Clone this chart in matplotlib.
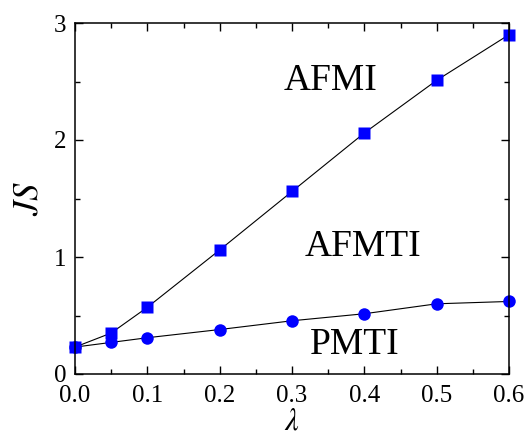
import matplotlib
matplotlib.use('Agg')
import matplotlib.pyplot as plt
from matplotlib.ticker import MultipleLocator

lam = [0.0, 0.05, 0.1, 0.2, 0.3, 0.4, 0.5, 0.6]
js_afmi = [0.23, 0.35, 0.57, 1.06, 1.56, 2.06, 2.51, 2.90]
js_pmti = [0.23, 0.27, 0.31, 0.38, 0.455, 0.515, 0.60, 0.62]

plt.rcParams['font.family'] = ['Liberation Serif', 'DejaVu Serif']
plt.rcParams['mathtext.fontset'] = 'stix'

fig = plt.figure(figsize=(5.26, 4.38), dpi=100)
ax = fig.add_axes([75 / 526, 1 - 374 / 438, 434 / 526, 351 / 438])

ax.plot(lam, js_afmi, 'k-', lw=0.8, zorder=1)
ax.plot(lam, js_pmti, 'k-', lw=0.8, zorder=1)
ax.plot(lam, js_afmi, 's', color='#0000ff', ms=8, mec='none', zorder=2, clip_on=False)
ax.plot(lam, js_pmti, 'o', color='#0000ff', ms=9, mec='none', zorder=2, clip_on=False)

ax.set_xlim(0, 0.6)
ax.set_ylim(0, 3)
ax.xaxis.set_major_locator(MultipleLocator(0.1))
ax.xaxis.set_minor_locator(MultipleLocator(0.05))
ax.yaxis.set_major_locator(MultipleLocator(1))
ax.yaxis.set_minor_locator(MultipleLocator(0.5))
ax.xaxis.set_major_formatter(plt.FormatStrFormatter('%.1f'))
ax.tick_params(which='both', direction='in', top=True, right=True, width=1.0)
ax.tick_params(which='major', length=6, labelsize=18)
ax.tick_params(axis='x', which='major', pad=8)
ax.tick_params(axis='y', which='major', pad=6)
ax.tick_params(which='minor', length=3.5)
for s in ax.spines.values():
    s.set_linewidth(1.1)

ax.set_xlabel(r'$\lambda$', fontsize=22, labelpad=0)
ax.set_ylabel(r'$JS$', fontsize=25, labelpad=6)

ax.text(0.353, 2.51, 'AFMI', fontsize=27, ha='center', va='center')
ax.text(0.398, 1.09, 'AFMTI', fontsize=27, ha='center', va='center')
ax.text(0.387, 0.25, 'PMTI', fontsize=27, ha='center', va='center')

fig.savefig('out.png', dpi=100)
